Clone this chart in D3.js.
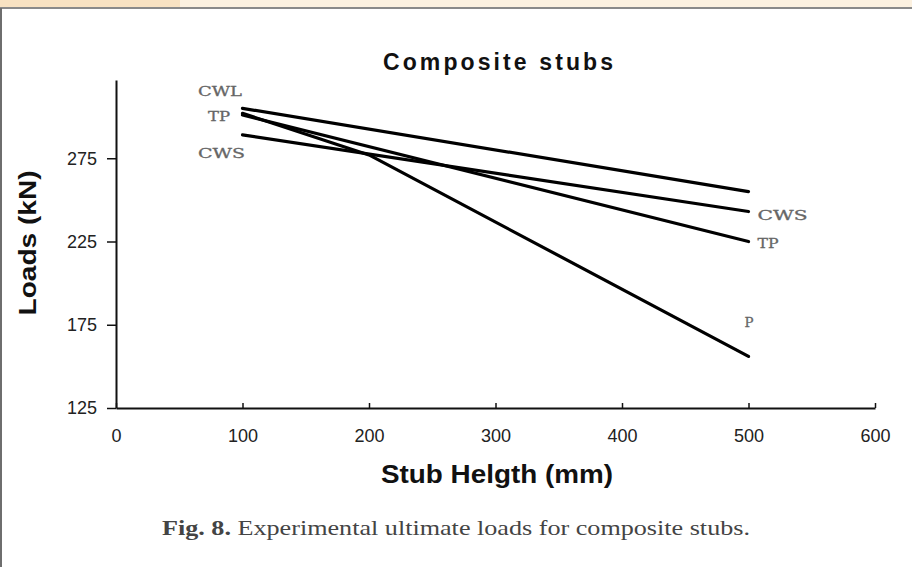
<!DOCTYPE html>
<html>
<head>
<meta charset="utf-8">
<script src="https://cdn.jsdelivr.net/npm/d3@7"></script>
<style>
  body { margin: 0; background: #fff; }
  svg { display: block; }
</style>
</head>
<body>
<div id="vis"></div>
<script>
// data (stub height in mm, load in kN)
const HEIGHTS = [100, 500];
const P_HEIGHTS = [100, 200, 500];
const CWL = [305, 255];
const TP = [301, 225];
const CWS = [289, 243];
const P = [302, 277, 156];
const X_TICKS = [0, 100, 200, 300, 400, 500, 600];
const Y_TICKS = [125, 175, 225, 275];

const FRAME_WIDTH = 912;
const FRAME_HEIGHT = 567;

const FRAME = d3.select("#vis")
    .append("svg")
      .attr("width", FRAME_WIDTH)
      .attr("height", FRAME_HEIGHT);

// page frame bits from the scan
FRAME.append("rect").attr("x", 0).attr("y", 0).attr("width", FRAME_WIDTH).attr("height", 7).attr("fill", "#fcf1e0");
FRAME.append("rect").attr("x", 0).attr("y", 0).attr("width", 180).attr("height", 7).attr("fill", "#f8e2c2");
FRAME.append("line").attr("x1", 0).attr("x2", FRAME_WIDTH).attr("y1", 8).attr("y2", 8)
    .attr("stroke", "#8a8a8a").attr("stroke-width", 2);
FRAME.append("line").attr("x1", 1).attr("x2", 1).attr("y1", 8).attr("y2", FRAME_HEIGHT)
    .attr("stroke", "#6e6e6e").attr("stroke-width", 2);

const X_SCALE = d3.scaleLinear().domain([0, 600]).range([116, 875]);
const Y_SCALE = d3.scaleLinear().domain([125, 322]).range([408, 80]);

// x axis (ticks point up)
const xAxis = FRAME.append("g")
    .attr("transform", "translate(0," + Y_SCALE(125) + ")")
    .call(d3.axisBottom(X_SCALE).tickValues(X_TICKS).tickSizeInner(-5).tickSizeOuter(0).tickPadding(21));
xAxis.select(".domain").attr("stroke", "#111").attr("stroke-width", 2);
xAxis.selectAll(".tick line").attr("stroke", "#111").attr("stroke-width", 1.5);
xAxis.selectAll("text")
    .attr("font-family", "Liberation Sans, Arial, sans-serif")
    .attr("font-size", 18).attr("fill", "#222");

// y axis
const yAxis = FRAME.append("g")
    .attr("transform", "translate(" + X_SCALE(0) + ",0)")
    .call(d3.axisLeft(Y_SCALE).tickValues(Y_TICKS).tickSizeInner(9).tickSizeOuter(0).tickPadding(10));
yAxis.select(".domain").attr("stroke", "#111").attr("stroke-width", 2);
yAxis.selectAll(".tick line").attr("stroke", "#111").attr("stroke-width", 1.5);
yAxis.selectAll("text")
    .attr("font-family", "Liberation Sans, Arial, sans-serif")
    .attr("font-size", 18).attr("fill", "#222");

// lines
function drawSeries(xs, ys) {
    const line = d3.line()
        .x((d, i) => X_SCALE(xs[i]))
        .y((d) => Y_SCALE(d));
    FRAME.append("path")
        .attr("d", line(ys))
        .attr("fill", "none")
        .attr("stroke", "#000")
        .attr("stroke-width", 3.2)
        .attr("stroke-linecap", "round")
        .attr("stroke-linejoin", "round");
}
drawSeries(HEIGHTS, CWL);
drawSeries(HEIGHTS, TP);
drawSeries(HEIGHTS, CWS);
drawSeries(P_HEIGHTS, P);

// series labels
const LABEL_FONT = "DejaVu Serif, Liberation Serif, serif";
function seriesLabel(txt, x, y, len) {
    FRAME.append("text")
        .attr("x", x).attr("y", y)
        .attr("font-family", LABEL_FONT)
        .attr("font-size", 13)
        .attr("fill", "#666")
        .attr("stroke", "#666").attr("stroke-width", 0.3)
        .attr("textLength", len)
        .attr("lengthAdjust", "spacingAndGlyphs")
        .text(txt);
}
seriesLabel("CWL", 198, 96, 44);
seriesLabel("TP", 208, 121, 22);
seriesLabel("CWS", 198, 158, 47);
seriesLabel("CWS", X_SCALE(500) + 9, Y_SCALE(CWS[1]) + 8, 50);
seriesLabel("TP", X_SCALE(500) + 9, Y_SCALE(TP[1]) + 6, 21);
seriesLabel("P", X_SCALE(500) - 4, Y_SCALE(P[2]) - 29, 9);

// title and axis titles
FRAME.append("text")
    .attr("x", 498).attr("y", 70)
    .attr("text-anchor", "middle")
    .attr("font-family", "Liberation Sans, Arial, sans-serif")
    .attr("font-size", 23).attr("font-weight", "bold")
    .attr("textLength", 230).attr("lengthAdjust", "spacing")
    .attr("fill", "#111")
    .text("Composite stubs");

FRAME.append("text")
    .attr("x", 497).attr("y", 483)
    .attr("text-anchor", "middle")
    .attr("font-family", "Liberation Sans, Arial, sans-serif")
    .attr("font-size", 26).attr("font-weight", "bold")
    .attr("textLength", 232).attr("lengthAdjust", "spacingAndGlyphs")
    .attr("fill", "#111")
    .text("Stub Helgth (mm)");

FRAME.append("text")
    .attr("transform", "translate(36,243) rotate(-90)")
    .attr("text-anchor", "middle")
    .attr("font-family", "Liberation Sans, Arial, sans-serif")
    .attr("font-size", 24).attr("font-weight", "bold")
    .attr("textLength", 145).attr("lengthAdjust", "spacingAndGlyphs")
    .attr("fill", "#111")
    .text("Loads (kN)");

// caption
const cap = FRAME.append("text")
    .attr("x", 162).attr("y", 535)
    .attr("font-family", "Liberation Serif, serif")
    .attr("font-size", 22)
    .attr("fill", "#444")
    .attr("textLength", 588).attr("lengthAdjust", "spacingAndGlyphs");
cap.append("tspan").attr("font-weight", "bold").text("Fig. 8.");
cap.append("tspan").text(" Experimental ultimate loads for composite stubs.");
</script>
</body>
</html>
